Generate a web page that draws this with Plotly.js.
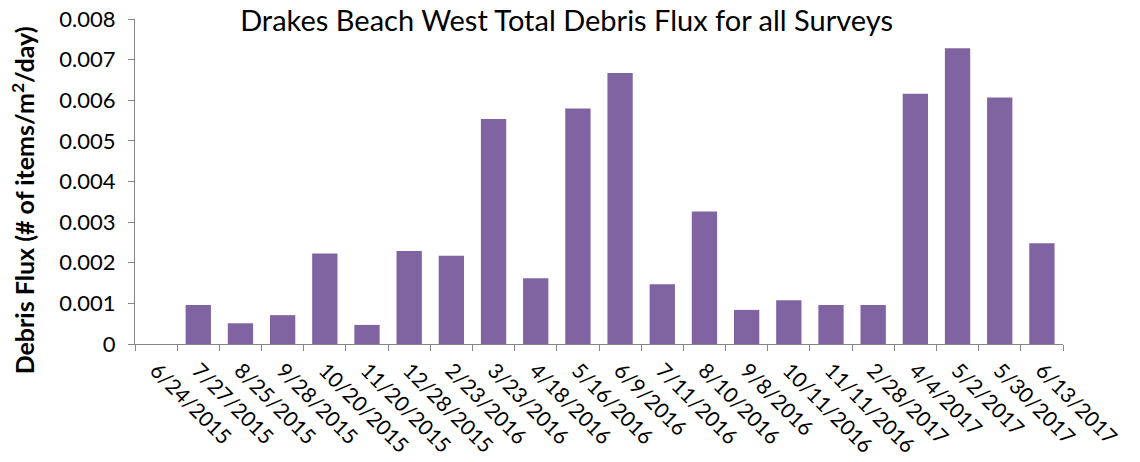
<!DOCTYPE html>
<html>
<head>
<meta charset="utf-8">
<script src="https://cdn.plot.ly/plotly-3.0.1.min.js"></script>
<style>html,body{margin:0;padding:0;background:#fff;}#chart{width:1140px;height:462px;}</style>
</head>
<body>
<div id="chart"></div>
<script>
const surveyDates = ["6/24/2015","7/27/2015","8/25/2015","9/28/2015","10/20/2015","11/20/2015","12/28/2015","2/23/2016","3/23/2016","4/18/2016","5/16/2016","6/9/2016","7/11/2016","8/10/2016","9/8/2016","10/11/2016","11/11/2016","2/28/2017","4/4/2017","5/2/2017","5/30/2017","6/13/2017"];
const debrisFlux = [0, 0.00096, 0.00051, 0.00071, 0.00223, 0.00047, 0.00229, 0.00217, 0.00554, 0.00162, 0.00580, 0.00667, 0.00147, 0.00326, 0.00084, 0.00108, 0.00096, 0.00096, 0.00616, 0.00728, 0.00607, 0.00248];
const yTickVals = [0, 0.001, 0.002, 0.003, 0.004, 0.005, 0.006, 0.007, 0.008];
const yTickText = ["0", "0.001", "0.002", "0.003", "0.004", "0.005", "0.006", "0.007", "0.008"];
const yTitle = '<b>Debris Flux (# of items/m<sup>2</sup>/day)</b>';

const FONT = "Lato, 'Open Sans', sans-serif";

Plotly.newPlot('chart', [{
  type: 'bar',
  x: surveyDates,
  y: debrisFlux,
  marker: {color: '#8064A2'},
  width: 0.6,
  hoverinfo: 'x+y'
}], {
  width: 1140, height: 462,
  margin: {l: 135, r: 77, t: 19, b: 118, pad: 0},
  paper_bgcolor: '#fff', plot_bgcolor: '#fff',
  showlegend: false,
  title: {text: 'Drakes Beach West Total Debris Flux for all Surveys', font: {family: FONT, size: 29, color: '#000'}, x: 0.497, xanchor: 'center', y: 0.955, yanchor: 'middle'},
  font: {family: FONT, color: '#000'},
  xaxis: {
    type: 'category',
    tickangle: 45,
    ticks: 'outside', ticklen: 6, tickcolor: '#868686', tickwidth: 1,
    tickson: 'boundaries',
    ticklabelstandoff: 5,
    showline: true, linecolor: '#868686', linewidth: 1,
    showgrid: false, zeroline: false,
    tickfont: {family: FONT, size: 21, color: '#000'},
    range: [-0.5, surveyDates.length - 0.5]
  },
  yaxis: {
    range: [0, 0.008],
    tickvals: yTickVals, ticktext: yTickText,
    ticks: 'outside', ticklen: 6, tickcolor: '#868686', tickwidth: 1,
    ticklabelstandoff: 8,
    showline: true, linecolor: '#868686', linewidth: 1,
    showgrid: false, zeroline: false,
    tickfont: {family: FONT, size: 22, color: '#000'}
  },
  annotations: [{
    text: yTitle, textangle: -90, showarrow: false,
    xref: 'paper', yref: 'paper', x: -0.1207, y: 0.442,
    xanchor: 'center', yanchor: 'middle',
    font: {family: FONT, size: 25, color: '#000'}
  }],
  bargap: 0.4
}, {displayModeBar: false, staticPlot: true});
</script>
</body>
</html>
